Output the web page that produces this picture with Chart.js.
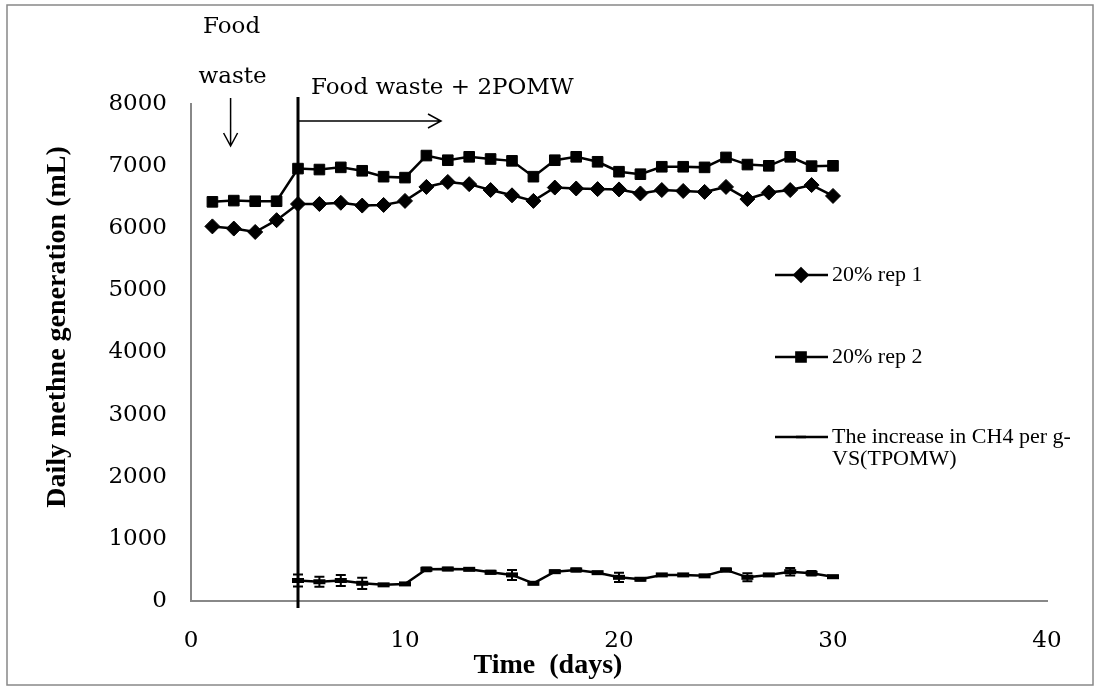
<!DOCTYPE html>
<html lang="en">
<head>
<meta charset="UTF-8">
<title>Daily methane generation</title>
<style>
    body { margin: 0; background: #fff; }
    #wrap { width: 1100px; height: 690px; }
</style>
</head>
<body>
<div id="wrap"><canvas id="chart" width="1100" height="690"></canvas></div>
<script src="https://cdn.jsdelivr.net/npm/chart.js"></script>
<script>
    // days 1..30 for the two replicates
    const days = [1,2,3,4,5,6,7,8,9,10,11,12,13,14,15,16,17,18,19,20,21,22,23,24,25,26,27,28,29,30];
    const rep1 = [6030,5995,5940,6130,6390,6390,6410,6365,6375,6440,6665,6745,6710,6615,6530,
                  6440,6655,6640,6630,6625,6560,6615,6600,6585,6665,6470,6575,6615,6695,6520];
    const rep2 = [6425,6445,6435,6435,6960,6945,6980,6925,6830,6815,7170,7095,7150,7115,7085,
                  6830,7095,7150,7070,6910,6870,6990,6990,6980,7140,7025,7005,7150,7000,7005];

    // increase in CH4 starts at day 5
    const incDays = [5,6,7,8,9,10,11,12,13,14,15,16,17,18,19,20,21,22,23,24,25,26,27,28,29,30];
    const increase = [330,310,330,285,260,275,510,515,510,462,420,285,472,500,456,381,350,420,420,405,500,381,420,472,446,391];
    const incErr   = [95,80,90,90,15,15,30,20,15,25,80,15,20,25,15,75,20,15,15,15,25,65,15,60,35,15];

    const xTicks = [0, 10, 20, 30, 40];
    const labels = ['20% rep 1', '20% rep 2', ['The increase in CH4 per g-', 'VS(TPOMW)']];

    const serif = "'DejaVu Serif', serif";
    const times = "'Liberation Serif', 'Times New Roman', serif";

    const toXY = (xs, ys) => xs.map((x, i) => ({x: x, y: ys[i]}));

    // error bars for the third series
    const errorBars = {
        id: 'errorBars',
        afterDatasetsDraw(chart) {
            const {ctx, scales: {x, y}} = chart;
            ctx.save();
            ctx.strokeStyle = '#000';
            ctx.lineWidth = 2;
            incDays.forEach((d, i) => {
                const px = x.getPixelForValue(d);
                const top = y.getPixelForValue(increase[i] + incErr[i]);
                const bot = y.getPixelForValue(increase[i] - incErr[i]);
                ctx.beginPath();
                ctx.moveTo(px, top); ctx.lineTo(px, bot);
                ctx.moveTo(px - 5, top); ctx.lineTo(px + 5, top);
                ctx.moveTo(px - 5, bot); ctx.lineTo(px + 5, bot);
                ctx.stroke();
            });
            ctx.restore();
        }
    };

    // frame, start line, arrows, notes, axis titles and the legend
    const extras = {
        id: 'extras',
        beforeDraw(chart) {
            const ctx = chart.ctx;
            ctx.save();
            ctx.fillStyle = '#fff';
            ctx.fillRect(0, 0, chart.width, chart.height);
            ctx.strokeStyle = '#888';
            ctx.lineWidth = 1.5;
            ctx.strokeRect(7, 5, 1086, 680);
            ctx.restore();
        },
        afterDraw(chart) {
            const {ctx, chartArea, scales: {x}} = chart;
            const x5 = x.getPixelForValue(5);
            ctx.save();
            ctx.strokeStyle = '#000';
            ctx.fillStyle = '#000';

            // start of co-digestion
            ctx.lineWidth = 3;
            ctx.beginPath();
            ctx.moveTo(x5, chartArea.top - 7);
            ctx.lineTo(x5, chartArea.bottom + 7);
            ctx.stroke();

            // arrows
            ctx.lineWidth = 1.5;
            const ax = x.getPixelForValue(1.85);
            ctx.beginPath();
            ctx.moveTo(ax, 98); ctx.lineTo(ax, 146);
            ctx.moveTo(ax - 7, 133); ctx.lineTo(ax, 146); ctx.lineTo(ax + 7, 133);
            ctx.moveTo(x5, 121); ctx.lineTo(x5 + 143, 121);
            ctx.moveTo(x5 + 130, 114); ctx.lineTo(x5 + 143, 121); ctx.lineTo(x5 + 130, 128);
            ctx.stroke();

            ctx.font = '23px ' + serif;
            ctx.textBaseline = 'middle';
            ctx.textAlign = 'center';
            ctx.fillText('Food', ax + 1, 27);
            ctx.fillText('waste', ax + 2, 77);
            ctx.textAlign = 'left';
            ctx.fillText('Food waste + 2POMW', x5 + 13, 88);

            // axis titles
            ctx.font = 'bold 28px ' + times;
            ctx.textAlign = 'center';
            ctx.fillText('Time  (days)', 548, 666);
            ctx.save();
            ctx.translate(58, 327);
            ctx.rotate(-Math.PI / 2);
            ctx.fillText('Daily methne generation (mL)', 0, 0);
            ctx.restore();

            // legend
            const styles = ['rectRot', 'rect', 'line'];
            const radii = [6.5, 6.5, 5];
            const rows = [275, 357, 437];
            ctx.font = '22px ' + times;
            ctx.textAlign = 'left';
            rows.forEach((ry, i) => {
                ctx.lineWidth = 2.5;
                ctx.beginPath();
                ctx.moveTo(775, ry); ctx.lineTo(828, ry);
                ctx.stroke();
                const opts = {pointStyle: styles[i], radius: radii[i], borderWidth: i === 2 ? 4 : 1};
                Chart.helpers.drawPoint(ctx, opts, 801, ry);
                if (i < 2) ctx.fill();
                const txt = [].concat(labels[i]);
                txt.forEach((t, k) => ctx.fillText(t, 832, ry + k * 22));
            });
            ctx.restore();
        }
    };

    new Chart(document.getElementById('chart'), {
        type: 'line',
        data: {
            datasets: [
                {
                    label: '20% rep 1', data: toXY(days, rep1),
                    borderColor: '#000', backgroundColor: '#000', borderWidth: 2.5,
                    pointStyle: 'rectRot', pointRadius: 7.5, pointBorderWidth: 1
                },
                {
                    label: '20% rep 2', data: toXY(days, rep2),
                    borderColor: '#000', backgroundColor: '#000', borderWidth: 2.5,
                    pointStyle: 'rect', pointRadius: 7.5, pointBorderWidth: 1
                },
                {
                    label: 'The increase in CH4 per g-VS(TPOMW)', data: toXY(incDays, increase),
                    borderColor: '#000', backgroundColor: '#000', borderWidth: 2.5,
                    pointStyle: 'line', pointRadius: 6, pointBorderWidth: 5
                }
            ]
        },
        options: {
            responsive: false,
            animation: false,
            layout: { padding: { left: 0, top: 104, right: 53, bottom: 0 } },
            plugins: { legend: { display: false }, tooltip: { enabled: false } },
            scales: {
                x: {
                    type: 'linear', min: 0, max: 40,
                    afterBuildTicks: s => { s.ticks = xTicks.map(v => ({value: v})); },
                    afterFit: s => { s.height = 89; },
                    grid: { display: false, drawTicks: false },
                    border: { display: true, color: '#888', width: 2 },
                    ticks: { color: '#000', padding: 26, maxRotation: 0, font: { family: serif, size: 23 } }
                },
                y: {
                    min: 0, max: 8000,
                    afterFit: s => { s.width = 191; },
                    grid: { display: false, drawTicks: false },
                    border: { display: true, color: '#888', width: 2 },
                    ticks: { stepSize: 1000, color: '#000', padding: 24, callback: v => String(v),
                             font: { family: serif, size: 23 } }
                }
            }
        },
        plugins: [errorBars, extras]
    });
</script>
</body>
</html>
